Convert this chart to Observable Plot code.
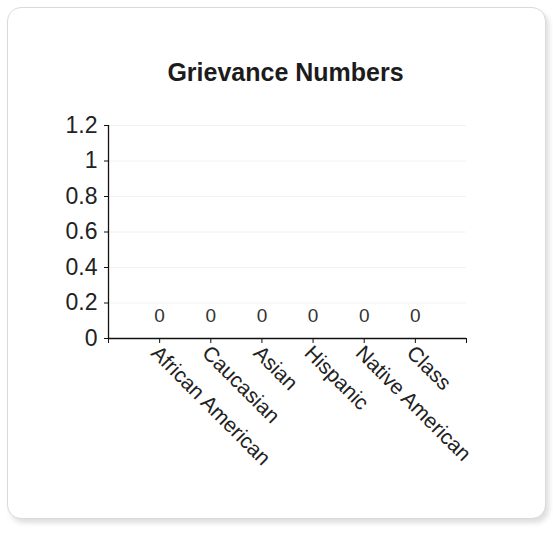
<!DOCTYPE html>
<html>
<head>
<meta charset="utf-8">
<script src="https://cdn.jsdelivr.net/npm/d3@7"></script>
<script src="https://cdn.jsdelivr.net/npm/@observablehq/plot@0.6"></script>
<style>
  html, body { margin: 0; padding: 0; background: #fff; }
  body { width: 553px; height: 534px; position: relative; overflow: hidden; font-family: "Liberation Sans", Arial, sans-serif; }
  #card { position: absolute; left: 7px; top: 7px; width: 537px; height: 510px; border: 1px solid #dadada; border-radius: 14px; box-shadow: 3px 4px 5px rgba(0,0,0,0.13); background: #fff; }
  #title { position: absolute; left: 285.5px; top: 57px; transform: translateX(-50%); white-space: nowrap; font-size: 25px; line-height: 30px; font-weight: bold; color: #1c1c1c; }
  #chart { position: absolute; left: 0; top: 0; }
</style>
</head>
<body>
<div id="card"></div>
<div id="title">Grievance Numbers</div>
<div id="chart"></div>
<script>
const categories = ["African American", "Caucasian", "Asian", "Hispanic", "Native American", "Class"];
const values = [0, 0, 0, 0, 0, 0];
const yTicks = [0, 0.2, 0.4, 0.6, 0.8, 1, 1.2];

const data = categories.map((c, i) => ({category: c, pos: i + 1, value: values[i]}));
const xTicks = d3.range(0, categories.length + 2);

const chart = Plot.plot({
  width: 553,
  height: 534,
  marginLeft: 108,
  marginRight: 87,
  marginTop: 125,
  marginBottom: 196,
  style: {background: "transparent", fontFamily: "Liberation Sans, Arial, sans-serif", color: "#222"},
  x: {type: "linear", domain: [0, categories.length + 1]},
  y: {domain: [0, 1.2]},
  marks: [
    Plot.gridY(yTicks, {stroke: "#f2f2f2", strokeOpacity: 1}),
    Plot.axisY(yTicks, {
      tickSize: 4, tickPadding: 7, fontSize: 23, stroke: "#111",
      tickFormat: d => String(+d.toFixed(1)), label: null
    }),
    Plot.axisX(xTicks, {
      tickSize: 5, stroke: "#111", tickFormat: () => "", label: null
    }),
    Plot.axisX(xTicks, {
      tickSize: 0, tickPadding: 9, fontSize: 21, tickRotate: 45,
      dx: -5, dy: 2,
      tickFormat: i => categories[i - 1] ?? "", label: null
    }),
    Plot.ruleX([0], {stroke: "#111", strokeWidth: 1.3}),
    Plot.ruleY([0], {stroke: "#111", strokeWidth: 1.3}),
    Plot.text(data, {x: "pos", y: "value", text: d => String(d.value), dy: -23, fontSize: 19, fill: "#333"})
  ]
});
document.getElementById("chart").appendChild(chart);
</script>
</body>
</html>
